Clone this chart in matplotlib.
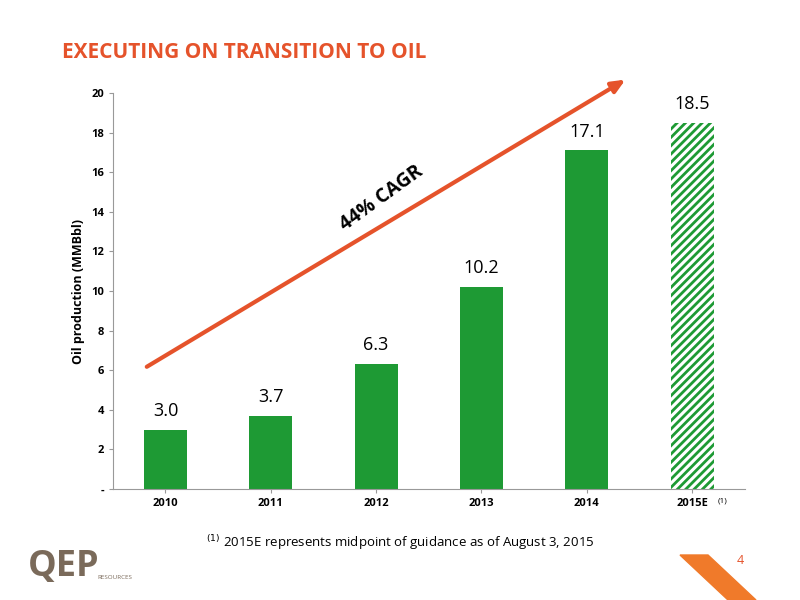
import matplotlib.pyplot as plt
from matplotlib.patches import Polygon

years = ['2010', '2011', '2012', '2013', '2014', '2015E']
oil = [3.0, 3.7, 6.3, 10.2, 17.1, 18.5]
green = '#1e9a34'
orange = '#e5532b'

plt.rcParams['font.family'] = ['Open Sans', 'DejaVu Sans']
plt.rcParams['hatch.linewidth'] = 2.0
fig = plt.figure(figsize=(8, 6), dpi=100)
ax = fig.add_axes([0.141, 0.185, 0.79, 0.66])

x = list(range(len(years)))
ax.bar(x[:-1], oil[:-1], width=0.41, color=green)
ax.bar(x[-1], oil[-1], width=0.41, color='white', edgecolor=green,
       hatch='////', linewidth=0)
for i, v in enumerate(oil):
    ax.text(i, v + 0.5, '%.1f' % v, ha='center', va='bottom', fontsize=13)

ax.set_xlim(-0.5, 5.5)
ax.set_ylim(0, 20)
ax.set_xticks(x)
ax.set_xticklabels(years, fontsize=8, fontweight='bold')
ax.set_yticks(range(0, 21, 2))
ax.set_yticklabels(['-'] + [str(v) for v in range(2, 21, 2)], fontsize=8, fontweight='bold')
ax.set_ylabel('Oil production (MMBbl)', fontsize=9, fontweight='bold')
for s in ['top', 'right']:
    ax.spines[s].set_visible(False)
ax.spines['left'].set_color('#999999')
ax.spines['bottom'].set_color('#999999')
ax.tick_params(colors='#999999', labelcolor='black', length=3)
ax.text(5.24, -0.45, '(1)', fontsize=6, va='top')

ax.annotate('', xy=(4.39, 20.75), xytext=(-0.2, 6.1), annotation_clip=False,
            arrowprops=dict(arrowstyle='-|>,head_length=0.8,head_width=0.35',
                            color=orange, lw=3))
ax.text(2.05, 14.7, '44% CAGR', rotation=36, fontsize=14, fontweight='bold',
        ha='center', va='center')

fig.text(0.077, 0.912, 'EXECUTING ON TRANSITION TO OIL', color=orange,
         fontsize=15, fontweight='bold', va='center')
fig.text(0.5, 0.095, r'$^{(1)}$ 2015E represents midpoint of guidance as of August 3, 2015',
         fontsize=9.5, ha='center', va='center')
fig.text(0.925, 0.06, '4', color=orange, fontsize=9, ha='center')
fig.text(0.035, 0.04, 'QEP', color='#7a6a5a', fontsize=26, fontweight='bold')
fig.text(0.122, 0.035, 'RESOURCES', color='#7a6a5a', fontsize=4.5)
fig.add_artist(Polygon([[0.85, 0.075], [0.885, 0.075], [0.945, 0.0], [0.91, 0.0]],
                       closed=True, color='#f07a2a', transform=fig.transFigure))

fig.savefig('out.png', dpi=100)
